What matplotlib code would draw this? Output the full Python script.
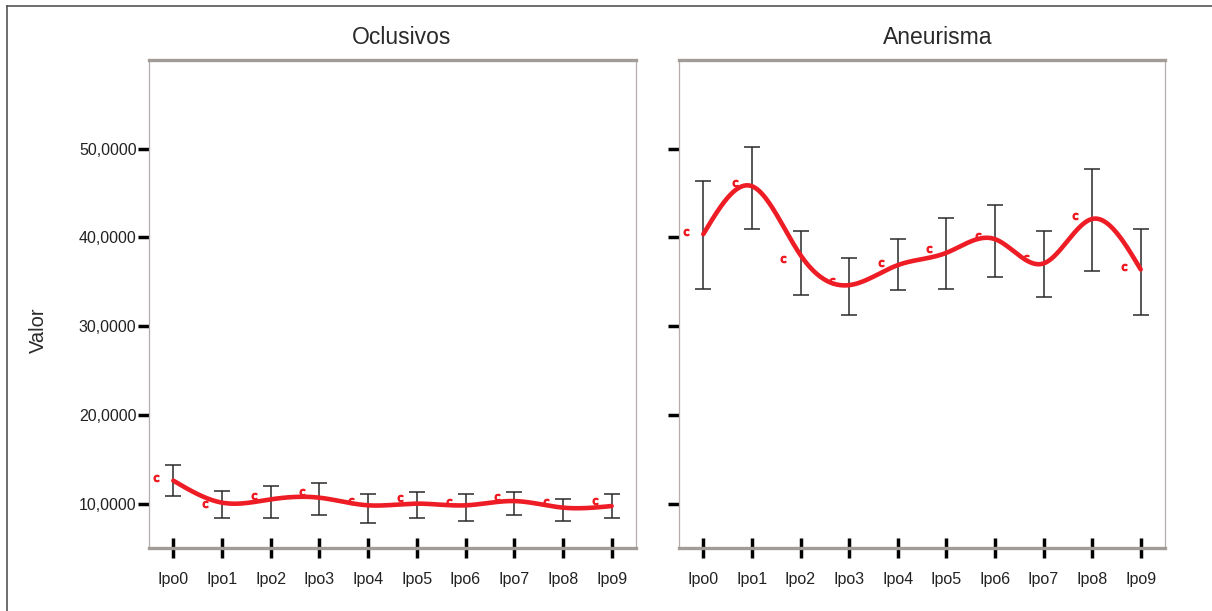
import numpy as np
import matplotlib
matplotlib.use("Agg")
import matplotlib.pyplot as plt
from matplotlib.lines import Line2D
from matplotlib.ticker import FuncFormatter

# ---------------- data ----------------
categories = ["Ipo0", "Ipo1", "Ipo2", "Ipo3", "Ipo4", "Ipo5", "Ipo6", "Ipo7", "Ipo8", "Ipo9"]
panel_titles = ["Oclusivos", "Aneurisma"]

ocl_mean = [12590, 10110, 10480, 10670, 9810, 10000, 9810, 10290, 9550, 9730]
ocl_lower = [10820, 8345, 8345, 8760, 7825, 8345, 8085, 8760, 8085, 8345]
ocl_upper = [14360, 11465, 12030, 12290, 11090, 11350, 11090, 11350, 10485, 11090]
ocl_marker = [12850, 10000, 10900, 11270, 10340, 10640, 10225, 10710, 10150, 10260]

aneu_mean = [40370, 45780, 38015, 34625, 36880, 38265, 39810, 37070, 42085, 36394]
aneu_lower = [34175, 40935, 33532, 31220, 34062, 34210, 35560, 33273, 36203, 31220]
aneu_upper = [46378, 50210, 40710, 37700, 39775, 42175, 43673, 40710, 47730, 40935]
aneu_marker = [40630, 46085, 37520, 35110, 37070, 38650, 40150, 37700, 42400, 36620]

y_ticks = [10000, 20000, 30000, 40000, 50000]
y_limits = (5000, 60000)
y_label = "Valor"

RED = "#ee1c25"
SPINE_THICK = "#a39b96"
SPINE_THIN = "#b5aeaa"


def natural_spline(x, y, n=400):
    x = np.asarray(x, float)
    y = np.asarray(y, float)
    k = len(x)
    h = np.diff(x)
    A = np.zeros((k, k))
    b = np.zeros(k)
    A[0, 0] = A[-1, -1] = 1
    for i in range(1, k - 1):
        A[i, i - 1] = h[i - 1]
        A[i, i] = 2 * (h[i - 1] + h[i])
        A[i, i + 1] = h[i]
        b[i] = 3 * ((y[i + 1] - y[i]) / h[i] - (y[i] - y[i - 1]) / h[i - 1])
    c = np.linalg.solve(A, b)
    xs = np.linspace(x[0], x[-1], n)
    idx = np.clip(np.searchsorted(x, xs) - 1, 0, k - 2)
    dx = xs - x[idx]
    bb = (y[idx + 1] - y[idx]) / h[idx] - h[idx] * (2 * c[idx] + c[idx + 1]) / 3
    dd = (c[idx + 1] - c[idx]) / (3 * h[idx])
    ys = y[idx] + bb * dx + c[idx] * dx ** 2 + dd * dx ** 3
    return xs, ys


W, H = 1212, 611
fig = plt.figure(figsize=(W / 100, H / 100), dpi=100)
plt.rcParams["font.family"] = ["Liberation Sans", "DejaVu Sans"]

# outer frame (top and left lines)
fig.add_artist(Line2D([7 / W, 1.0], [1 - 6 / H, 1 - 6 / H], transform=fig.transFigure,
                      color="#555555", lw=1.2))
fig.add_artist(Line2D([7 / W, 7 / W], [0, 1 - 6 / H], transform=fig.transFigure,
                      color="#555555", lw=1.2))

panels = [
    (149, 636, ocl_mean, ocl_lower, ocl_upper, ocl_marker, 402, True),
    (679, 1165, aneu_mean, aneu_lower, aneu_upper, aneu_marker, 938, False),
]

for (x0, x1, mean, lo, up, mk, tx, show_labels), title in zip(panels, panel_titles):
    ax = fig.add_axes([x0 / W, (H - 548) / H, (x1 - x0) / W, 488 / H])
    xpos = np.arange(len(categories))
    mean = np.asarray(mean, float)
    yerr = [mean - np.asarray(lo), np.asarray(up) - mean]
    ax.errorbar(xpos, mean, yerr=yerr, fmt="none", ecolor="#2a2a2a",
                elinewidth=1.1, capsize=5.5, capthick=1.1, zorder=2)
    xs, ys = natural_spline(xpos, mean)
    ax.plot(xs, ys, color=RED, lw=3.3, solid_capstyle="round", zorder=3)
    ax.plot(xpos - 0.35, mk, linestyle="none", marker=r"$\mathsf{c}$",
            color=RED, markersize=4.5, zorder=4)

    ax.set_xlim(-0.5, 9.5)
    ax.set_ylim(*y_limits)
    ax.set_xticks(xpos)
    ax.set_xticklabels(categories)
    ax.set_yticks(y_ticks)
    ax.yaxis.set_major_formatter(FuncFormatter(lambda v, p: f"{v/1000:.4f}".replace(".", ",")))
    if not show_labels:
        ax.set_yticklabels([])

    ax.tick_params(axis="x", direction="inout", length=14.5, width=2.5, color="black",
                   labelsize=11.5, pad=10, labelcolor="#222222")
    ax.tick_params(axis="y", direction="out", length=8, width=2.5, color="black",
                   labelsize=11.5, pad=1, labelcolor="#222222")

    for s in ("top", "bottom"):
        ax.spines[s].set_color(SPINE_THICK)
        ax.spines[s].set_linewidth(2.4)
    for s in ("left", "right"):
        ax.spines[s].set_color(SPINE_THIN)
        ax.spines[s].set_linewidth(0.9)

    fig.text(tx / W, 1 - 37 / H, title, fontsize=16.5, ha="center", va="center",
             color="#2a2a2a")

fig.text(38 / W, 1 - 330 / H, y_label, rotation=90, fontsize=14.5, ha="center",
         va="center", color="#2a2a2a")

fig.savefig("out.png", dpi=100)
